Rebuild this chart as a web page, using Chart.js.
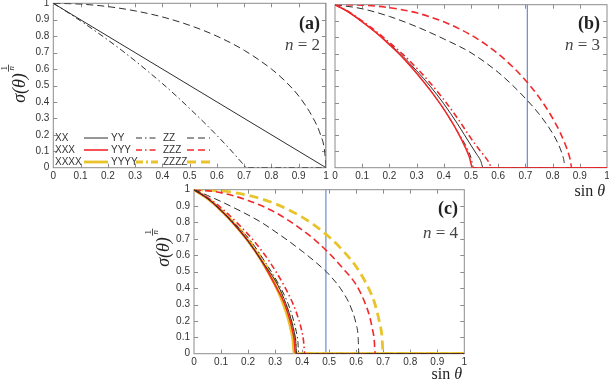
<!DOCTYPE html>
<html>
<head>
<meta charset="utf-8">
<title>sigma(theta)^(1/n) vs sin theta</title>
<script src="https://cdn.jsdelivr.net/npm/chart.js@4"></script>
<style>
  body { margin: 0; background: #fff; width: 609px; height: 380px; overflow: hidden; position: relative; }
  canvas { position: absolute; }
</style>
</head>
<body>
<canvas id="chartA" width="335" height="190" style="left:0;top:0"></canvas>
<canvas id="chartB" width="279" height="200" style="left:330px;top:0"></canvas>
<canvas id="chartC" width="345" height="200" style="left:130px;top:180px"></canvas>

<script>
// ---- data (x = sin theta, y = sigma^(1/n)) ----

// panel (a), n = 2
const sinA_XX = [0, 1];
const valA_XX = [1, 0];
const sinA_YY = [0, 0.05, 0.1, 0.15, 0.2, 0.25, 0.3, 0.35, 0.4, 0.45, 0.5, 0.55, 0.6, 0.65, 0.68, 0.7, 0.707, 1];
const valA_YY = [1, 0.948, 0.893, 0.836, 0.777, 0.715, 0.65, 0.582, 0.512, 0.438, 0.36, 0.28, 0.196, 0.108, 0.052, 0.014, 0, 0];
const sinA_ZZ = [0, 0.1, 0.2, 0.3, 0.4, 0.5, 0.6, 0.7, 0.8, 0.85, 0.9, 0.95, 0.98, 0.995, 1];
const valA_ZZ = [1, 0.995, 0.98, 0.954, 0.917, 0.866, 0.8, 0.714, 0.6, 0.527, 0.436, 0.31, 0.2, 0.1, 0];
const sinA_ref = [1, 1];

// panel (b), n = 3
const sinB_XX = [0, 0.05, 0.1, 0.15, 0.2, 0.25, 0.3, 0.35, 0.4, 0.45, 0.5, 0.52, 0.535, 0.545, 1];
const valB_XX = [1, 0.955, 0.895, 0.83, 0.76, 0.683, 0.595, 0.5, 0.392, 0.27, 0.137, 0.085, 0.045, 0, 0];
const sinB_YY = [0, 0.05, 0.1, 0.15, 0.2, 0.25, 0.3, 0.35, 0.4, 0.45, 0.485, 0.5, 0.51, 1];
const valB_YY = [1, 0.955, 0.895, 0.83, 0.755, 0.674, 0.58, 0.476, 0.359, 0.222, 0.122, 0.061, 0, 0];
const sinB_ZZ = [0, 0.1, 0.2, 0.3, 0.4, 0.5, 0.6, 0.65, 0.7, 0.75, 0.8, 0.82, 0.835, 0.842, 0.845, 1];
const valB_ZZ = [1, 0.975, 0.928, 0.865, 0.79, 0.705, 0.585, 0.51, 0.425, 0.33, 0.211, 0.148, 0.085, 0.04, 0, 0];
const sinB_XXX = [0, 0.05, 0.1, 0.15, 0.2, 0.25, 0.3, 0.35, 0.4, 0.45, 0.48, 0.495, 0.505, 1];
const valB_XXX = [1, 0.955, 0.895, 0.83, 0.755, 0.674, 0.58, 0.476, 0.359, 0.222, 0.122, 0.061, 0, 0];
const sinB_YYY = [0, 0.05, 0.1, 0.15, 0.2, 0.25, 0.3, 0.35, 0.4, 0.45, 0.5, 0.53, 0.55, 0.565, 0.577, 1];
const valB_YYY = [1, 0.957, 0.9, 0.838, 0.768, 0.695, 0.612, 0.52, 0.418, 0.305, 0.18, 0.112, 0.07, 0.035, 0, 0];
const sinB_ZZZ = [0, 0.1, 0.2, 0.3, 0.4, 0.5, 0.55, 0.6, 0.65, 0.7, 0.75, 0.8, 0.83, 0.85, 0.86, 0.865, 0.87, 1];
const valB_ZZZ = [1, 0.997, 0.982, 0.95, 0.895, 0.814, 0.761, 0.698, 0.624, 0.537, 0.433, 0.304, 0.208, 0.128, 0.079, 0.048, 0, 0];
const sinB_ref = [0.707, 0.707];

// panel (c), n = 4
const sinC_XX = [0, 0.05, 0.1, 0.15, 0.2, 0.25, 0.31, 0.34, 0.36, 0.37, 0.376, 0.38, 1];
const valC_XX = [1, 0.947, 0.874, 0.787, 0.687, 0.567, 0.419, 0.305, 0.205, 0.137, 0.081, 0, 0];
const sinC_YY = [0, 0.05, 0.1, 0.155, 0.21, 0.26, 0.315, 0.348, 0.368, 0.378, 0.384, 0.388, 1];
const valC_YY = [1, 0.947, 0.874, 0.787, 0.687, 0.567, 0.419, 0.305, 0.205, 0.137, 0.081, 0, 0];
const sinC_ZZ = [0, 0.05, 0.1, 0.15, 0.2, 0.25, 0.3, 0.35, 0.4, 0.45, 0.5, 0.55, 0.58, 0.6, 0.607, 0.61, 1];
const valC_ZZ = [1, 0.965, 0.928, 0.888, 0.846, 0.8, 0.745, 0.687, 0.625, 0.558, 0.482, 0.378, 0.284, 0.179, 0.108, 0, 0];
const sinC_XXX = [0, 0.05, 0.1, 0.15, 0.2, 0.25, 0.3, 0.335, 0.355, 0.365, 0.371, 0.375, 1];
const valC_XXX = [1, 0.947, 0.874, 0.787, 0.687, 0.567, 0.419, 0.305, 0.205, 0.137, 0.081, 0, 0];
const sinC_YYY = [0, 0.055, 0.111, 0.166, 0.222, 0.277, 0.332, 0.366, 0.388, 0.399, 0.405, 0.41, 1];
const valC_YYY = [1, 0.947, 0.874, 0.787, 0.687, 0.567, 0.419, 0.305, 0.205, 0.137, 0.081, 0, 0];
const sinC_ZZZ = [0, 0.1, 0.2, 0.3, 0.4, 0.45, 0.5, 0.55, 0.6, 0.63, 0.65, 0.66, 0.667, 0.67, 1];
const valC_ZZZ = [1, 0.982, 0.934, 0.862, 0.755, 0.69, 0.612, 0.522, 0.42, 0.32, 0.225, 0.15, 0.08, 0, 0];
const sinC_XXXX = [0, 0.05, 0.1, 0.15, 0.2, 0.25, 0.3, 0.33, 0.35, 0.36, 0.366, 0.37, 1];
const valC_XXXX = [1, 0.947, 0.874, 0.787, 0.687, 0.567, 0.419, 0.305, 0.205, 0.137, 0.081, 0, 0];
const sinC_YYYY = [0, 0.05, 0.1, 0.153, 0.205, 0.255, 0.306, 0.337, 0.358, 0.368, 0.374, 0.378, 1];
const valC_YYYY = [1, 0.947, 0.874, 0.787, 0.687, 0.567, 0.419, 0.305, 0.205, 0.137, 0.081, 0, 0];
const sinC_ZZZZ = [0, 0.1, 0.2, 0.3, 0.4, 0.45, 0.5, 0.55, 0.6, 0.65, 0.67, 0.685, 0.695, 0.7, 1];
const valC_ZZZZ = [1, 0.993, 0.966, 0.915, 0.833, 0.778, 0.712, 0.63, 0.53, 0.385, 0.3, 0.2, 0.112, 0, 0];
const sinC_ref = [0.488, 0.488];

const refVal = [0, 1];
const axisTicks = [0, 0.1, 0.2, 0.3, 0.4, 0.5, 0.6, 0.7, 0.8, 0.9, 1];

// legend of panel (a)
const legendRows = [
  ['XX', 'YY', 'ZZ'],
  ['XXX', 'YYY', 'ZZZ'],
  ['XXXX', 'YYYY', 'ZZZZ']
];

// ---- styles ----
const BLACK = '#2e2e2e', RED = '#f2292b', YELLOW = '#e9c32c', BLUE = '#5d82c2';
const rowStyle = [
  { color: BLACK, width: 1 },
  { color: RED, width: 1.6 },
  { color: YELLOW, width: 2.8 }
];
const dashFor = {
  solid: () => [],
  dashdot: (w) => w > 2 ? [7, 3, 2, 3] : [6, 3, 1.5, 3],
  dashed: (w) => w > 2 ? [9, 5] : [7, 4]
};
const SANS = '"Liberation Sans", Arial, sans-serif';
const SERIF = '"Liberation Serif", "DejaVu Serif", serif';

Chart.defaults.font.family = SANS;
Chart.defaults.font.size = 10;
Chart.defaults.color = '#333';

function pts(xs, ys) {
  return xs.map((x, i) => ({ x: x, y: ys[i] }));
}

function curve(xs, ys, row, kind) {
  const st = rowStyle[row];
  return {
    data: pts(xs, ys),
    borderColor: st.color,
    borderWidth: st.width,
    borderDash: dashFor[kind](st.width),
    pointRadius: 0,
    fill: false,
    cubicInterpolationMode: 'monotone'
  };
}

function refLine(xs) {
  return { data: pts(xs, refVal), borderColor: BLUE, borderWidth: 1.1, pointRadius: 0, fill: false };
}

// frame with inward ticks on all four sides
const framePlugin = {
  id: 'frame',
  beforeDatasetsDraw(chart) {
    const { ctx, chartArea: a } = chart;
    const xs = chart.scales.x, ys = chart.scales.y;
    ctx.save();
    ctx.strokeStyle = '#8c8c8c';
    ctx.lineWidth = 1;
    ctx.strokeRect(a.left, a.top, a.right - a.left, a.bottom - a.top);
    ctx.beginPath();
    axisTicks.slice(1, -1).forEach(v => {
      const px = Math.round(xs.getPixelForValue(v)) + 0.5;
      ctx.moveTo(px, a.bottom); ctx.lineTo(px, a.bottom - 4);
      ctx.moveTo(px, a.top); ctx.lineTo(px, a.top + 4);
      const py = Math.round(ys.getPixelForValue(v)) + 0.5;
      ctx.moveTo(a.left, py); ctx.lineTo(a.left + 4, py);
      ctx.moveTo(a.right, py); ctx.lineTo(a.right - 4, py);
    });
    ctx.stroke();
    ctx.restore();
  }
};

function drawYTitle(ctx, bx, cy) {
  ctx.save();
  ctx.translate(bx, cy);
  ctx.rotate(-Math.PI / 2);
  ctx.fillStyle = '#222';
  ctx.textBaseline = 'alphabetic';
  ctx.font = 'italic 18px ' + SERIF;
  const s = 'σ(θ)';
  const w = ctx.measureText(s).width;
  ctx.textAlign = 'left';
  ctx.fillText(s, -w / 2, 0);
  const fx = w / 2 + 5;
  ctx.textAlign = 'center';
  ctx.font = '9px ' + SERIF;
  ctx.fillText('1', fx, -18.5);
  ctx.fillRect(fx - 3.5, -17, 7, 0.8);
  ctx.font = 'italic 9px ' + SERIF;
  ctx.fillText('n', fx, -11);
  ctx.restore();
}

function drawPanelTag(ctx, rx, y1, y2, tag, n) {
  ctx.save();
  ctx.fillStyle = '#222';
  ctx.textBaseline = 'alphabetic';
  ctx.textAlign = 'right';
  ctx.font = 'bold 18px ' + SERIF;
  ctx.fillText('(' + tag + ')', rx, y1);
  ctx.fillStyle = '#444';
  ctx.font = '17px ' + SERIF;
  const t = ' = ' + n;
  const w = ctx.measureText(t).width;
  ctx.fillText(t, rx, y2);
  ctx.font = 'italic 17px ' + SERIF;
  ctx.fillText('n', rx - w, y2);
  ctx.restore();
}

function drawSinTheta(ctx, rx, y) {
  ctx.save();
  ctx.fillStyle = '#222';
  ctx.textBaseline = 'alphabetic';
  ctx.textAlign = 'right';
  ctx.font = 'italic 16px ' + SERIF;
  const wt = ctx.measureText('θ').width;
  ctx.fillText('θ', rx, y);
  ctx.font = '16px ' + SERIF;
  ctx.fillText('sin ', rx - wt, y);
  ctx.restore();
}

function drawLegend(ctx) {
  const textX = [55, 111, 163];
  const segs = [[84, 108], [136, 158], [187, 210]];
  const kinds = ['solid', 'dashdot', 'dashed'];
  const rowY = [138, 150, 162];
  ctx.save();
  legendRows.forEach((labels, r) => {
    const st = rowStyle[r];
    labels.forEach((lab, c) => {
      ctx.font = '10px ' + SANS;
      ctx.fillStyle = '#333';
      ctx.textBaseline = 'middle';
      ctx.textAlign = 'left';
      ctx.fillText(lab, textX[c], rowY[r]);
      ctx.strokeStyle = st.color;
      ctx.lineWidth = st.width;
      ctx.setLineDash(dashFor[kinds[c]](st.width));
      ctx.beginPath();
      ctx.moveTo(segs[c][0], rowY[r]);
      ctx.lineTo(segs[c][1], rowY[r]);
      ctx.stroke();
      ctx.setLineDash([]);
    });
  });
  ctx.restore();
}

function makeScales(yWidth, xHeight, showY) {
  const fmt = v => String(Math.round(v * 10) / 10);
  return {
    x: {
      type: 'linear', min: 0, max: 1,
      grid: { display: false, drawTicks: false },
      border: { display: false },
      ticks: { stepSize: 0.1, autoSkip: false, maxRotation: 0, padding: 3, callback: fmt },
      afterFit: s => { s.height = xHeight; s.paddingLeft = 0; s.paddingRight = 0; }
    },
    y: {
      type: 'linear', min: 0, max: 1, display: showY,
      grid: { display: false, drawTicks: false },
      border: { display: false },
      ticks: { stepSize: 0.1, padding: 4, callback: fmt },
      afterFit: s => { s.width = yWidth; s.paddingTop = 0; s.paddingBottom = 0; }
    }
  };
}

function makeChart(id, datasets, padding, yWidth, xHeight, showY, annotate) {
  return new Chart(document.getElementById(id), {
    type: 'line',
    data: { datasets: datasets },
    options: {
      responsive: false,
      animation: false,
      events: [],
      layout: { padding: padding },
      plugins: { legend: { display: false }, tooltip: { enabled: false } },
      scales: makeScales(yWidth, xHeight, showY)
    },
    plugins: [framePlugin, { id: 'annot', afterDraw: chart => annotate(chart.ctx) }]
  });
}

// panel (a)
makeChart('chartA', [
  refLine(sinA_ref),
  curve(sinA_XX, valA_XX, 0, 'solid'),
  curve(sinA_YY, valA_YY, 0, 'dashdot'),
  curve(sinA_ZZ, valA_ZZ, 0, 'dashed')
], { top: 3.3, right: 9, bottom: 0, left: 0 }, 53.3, 22.3, true, ctx => {
  drawYTitle(ctx, 25, 88);
  drawPanelTag(ctx, 320, 29, 50, 'a', 2);
  drawLegend(ctx);
});

// panel (b)
makeChart('chartB', [
  curve(sinB_XXX, valB_XXX, 1, 'solid'),
  curve(sinB_YYY, valB_YYY, 1, 'dashdot'),
  curve(sinB_ZZZ, valB_ZZZ, 1, 'dashed'),
  curve(sinB_YY, valB_YY, 0, 'dashdot'),
  curve(sinB_XX, valB_XX, 0, 'solid'),
  curve(sinB_ZZ, valB_ZZ, 0, 'dashed'),
  refLine(sinB_ref)
], { top: 4.7, right: 2, bottom: 0, left: 5 }, 0, 32.3, false, ctx => {
  drawPanelTag(ctx, 270, 29, 50, 'b', 3);
  drawSinTheta(ctx, 275, 196);
});

// panel (c)
makeChart('chartC', [
  curve(sinC_XX, valC_XX, 0, 'solid'),
  curve(sinC_YY, valC_YY, 0, 'dashdot'),
  curve(sinC_ZZ, valC_ZZ, 0, 'dashed'),
  curve(sinC_XXX, valC_XXX, 1, 'solid'),
  curve(sinC_YYY, valC_YYY, 1, 'dashdot'),
  curve(sinC_ZZZ, valC_ZZZ, 1, 'dashed'),
  curve(sinC_XXXX, valC_XXXX, 2, 'solid'),
  curve(sinC_YYYY, valC_YYYY, 2, 'dashdot'),
  curve(sinC_ZZZZ, valC_ZZZZ, 2, 'dashed'),
  refLine(sinC_ref)
], { top: 9.7, right: 10.7, bottom: 0, left: 0 }, 64, 26.3, true, ctx => {
  drawYTitle(ctx, 39, 72);
  drawPanelTag(ctx, 328, 34, 58, 'c', 4);
  drawSinTheta(ctx, 332, 199);
});
</script>
</body>
</html>
